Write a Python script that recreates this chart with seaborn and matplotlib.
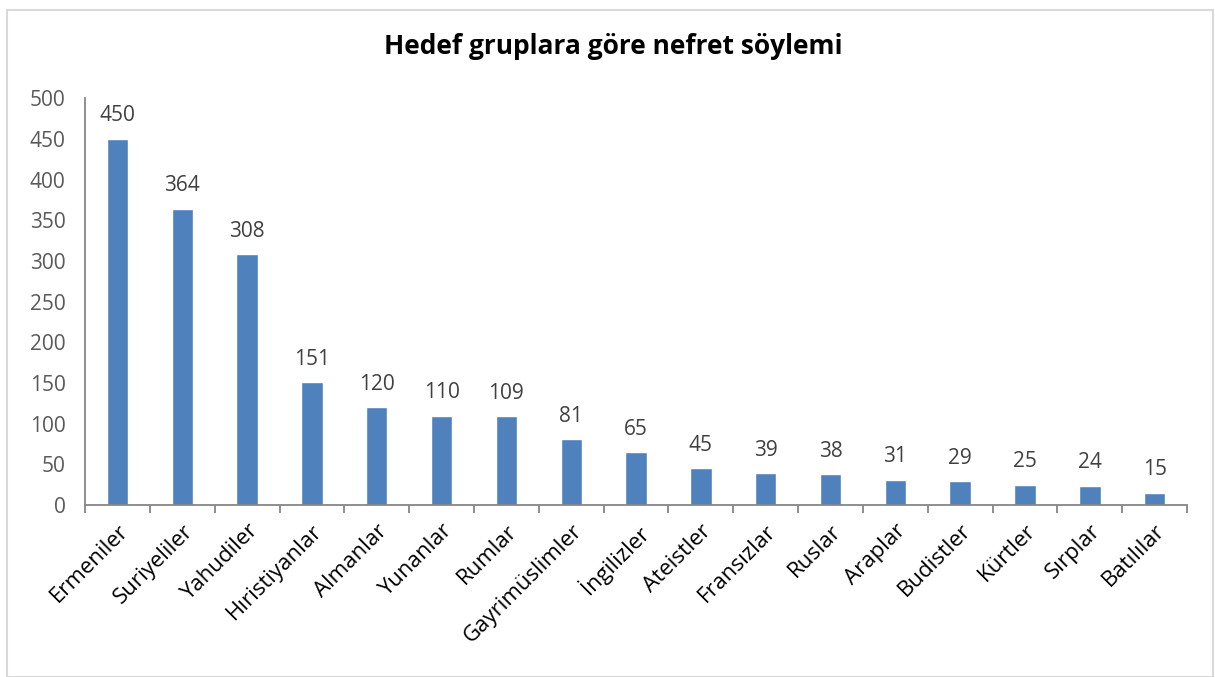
import numpy as np
import pandas as pd
import seaborn as sns
import matplotlib.pyplot as plt
from matplotlib.patches import Rectangle

# Data
groups = ["Ermeniler", "Suriyeliler", "Yahudiler", "Hıristiyanlar", "Almanlar",
          "Yunanlar", "Rumlar", "Gayrimüslimler", "İngilizler", "Ateistler",
          "Fransızlar", "Ruslar", "Araplar", "Budistler", "Kürtler", "Sırplar",
          "Batılılar"]
counts = [450, 364, 308, 151, 120, 110, 109, 81, 65, 45, 39, 38, 31, 29, 25, 24, 15]

df = pd.DataFrame({"grup": groups, "sayi": counts})

sns.set_style("white")
plt.rcParams['font.family'] = ['Open Sans', 'DejaVu Sans']

fig = plt.figure(figsize=(12.15, 6.77), dpi=100)
ax = fig.add_axes([0.07, 0.254, 0.907, 0.601])

sns.barplot(data=df, x="grup", y="sayi", color="#4F81BD", saturation=1,
            width=0.33, ax=ax)

# Data labels
for i, v in enumerate(counts):
    ax.annotate(str(v), (i, v), xytext=(0, 9), textcoords="offset points",
                ha="center", va="bottom", fontsize=15, color="#404040")

ax.set_ylim(0, 500)
ax.set_yticks(np.arange(0, 501, 50))
ax.set_xlim(-0.5, len(groups) - 0.5)
ax.set_xlabel("")
ax.set_ylabel("")

# Category tick marks between bars
ax.set_xticks(np.arange(-0.5, len(groups), 1), minor=True)
ax.tick_params(axis="x", which="major", length=0, pad=11, labelsize=16,
               labelcolor="#000000")
ax.tick_params(axis="x", which="minor", length=6, width=1.3, color="#868686",
               direction="out", bottom=True)
ax.tick_params(axis="y", length=6, width=1.3, color="#868686",
               labelsize=15, labelcolor="#595959", pad=8)
plt.setp(ax.get_xticklabels(), rotation=45, ha="right", rotation_mode="anchor")

for side in ["top", "right"]:
    ax.spines[side].set_visible(False)
for side in ["left", "bottom"]:
    ax.spines[side].set_color("#868686")
    ax.spines[side].set_linewidth(1.3)

fig.text(0.505, 0.932, "Hedef gruplara göre nefret söylemi", ha="center",
         va="center", fontsize=19, fontweight="bold", color="#000000")

# Chart border
fig.patches.append(Rectangle((0.006, 0.0), 0.992, 0.985, transform=fig.transFigure,
                             fill=False, edgecolor="#D9D9D9", linewidth=1.5))

fig.savefig("out.png", dpi=100)
